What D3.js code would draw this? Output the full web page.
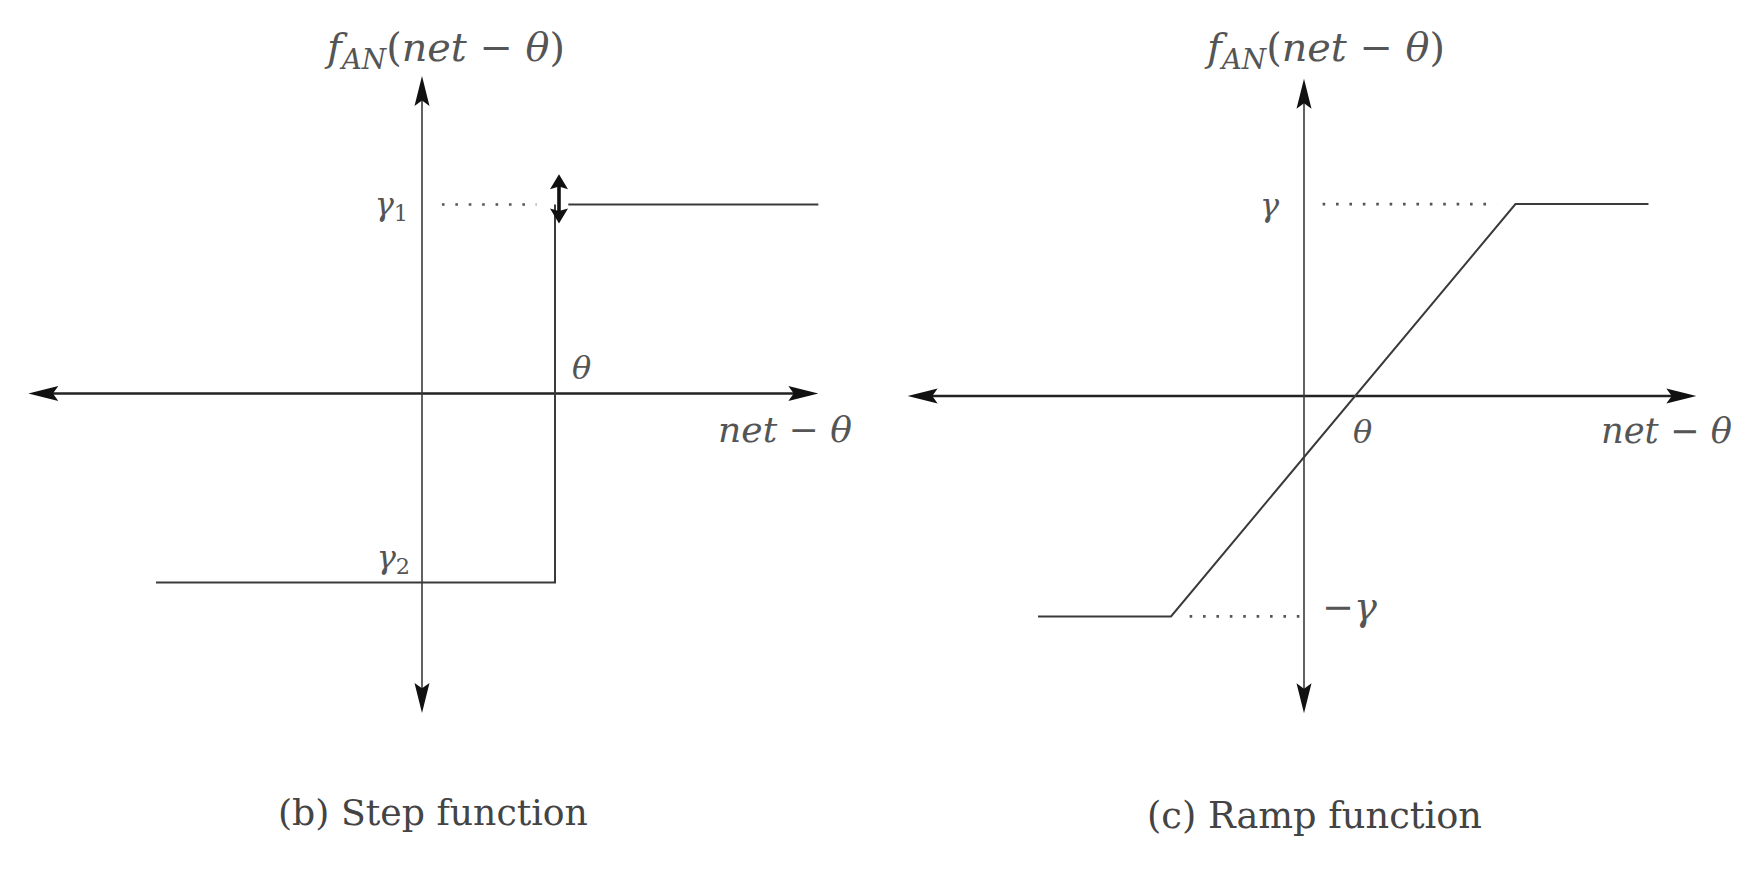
<!DOCTYPE html>
<html>
<head>
<meta charset="utf-8">
<script src="https://cdn.jsdelivr.net/npm/d3@7"></script>
<style>
  html, body { margin: 0; padding: 0; background: #fff; }
  svg { display: block; }
</style>
</head>
<body>
<svg id="chart" width="1758" height="882"></svg>
<script>
// ---------- DATA (drawing units: x = net - theta units, y = activation units) ----------
// Panel (b) Step function
const stepAxisX = [-2.96, 2.98];
const stepAxisY = [-1.69, 1.68];
const stepLower = [[-2, -1], [1, -1], [1, 1]];      // gamma2 level, then jump at theta
const stepUpper = [[1.1, 1], [2.98, 1]];             // gamma1 level
const stepDotted = [[0.15, 1], [0.86, 1]];
const stepDoubleArrow = [1.03, 0.9, 1.16];           // x, y-bottom, y-top
// Panel (c) Ramp function
const rampAxisX = [-2.98, 2.95];
const rampAxisY = [-1.67, 1.67];
const rampLine = [[-2, -1.16], [-1, -1.16], [1.59, 1.01], [2.59, 1.01]];
const rampDottedTop = [[0.14, 1.01], [1.45, 1.01]];
const rampDottedBottom = [[-0.86, -1.16], [-0.02, -1.16]];
// Texts
const yTitle = [{t: "f", i: true}, {t: "AN", i: true, sub: true}, {t: "(", i: false}, {t: "net", i: true}, {t: " − ", i: false}, {t: "θ", i: true}, {t: ")", i: false}];
const xTitle = [{t: "net", i: true}, {t: " − ", i: false}, {t: "θ", i: true}];
const captions = ["(b) Step function", "(c) Ramp function"];

// ---------- SCALES ----------
const xL = d3.scaleLinear().domain([-3, 3]).range([23, 821]);
const yL = d3.scaleLinear().domain([-1, 1]).range([393.5 + 189, 393.5 - 189]);
const xR = d3.scaleLinear().domain([-3, 3]).range([1304 - 399, 1304 + 399]);
const yR = d3.scaleLinear().domain([-1, 1]).range([396 + 190, 396 - 190]);

const svg = d3.select("#chart");
const LINE = "#3a3a3a";
const TEXT = "#555";
const FONT = "'DejaVu Serif', 'Liberation Serif', serif";

function arrowHead(g, x, y, dir, len, hw, color) {
  const back = len * 0.18;
  let p;
  if (dir === "up") p = [[x, y], [x - hw, y + len], [x, y + len - back], [x + hw, y + len]];
  if (dir === "down") p = [[x, y], [x - hw, y - len], [x, y - len + back], [x + hw, y - len]];
  if (dir === "left") p = [[x, y], [x + len, y - hw], [x + len - back, y], [x + len, y + hw]];
  if (dir === "right") p = [[x, y], [x - len, y - hw], [x - len + back, y], [x - len, y + hw]];
  g.append("path").attr("d", d3.line()(p) + "Z").attr("fill", color || "#111").attr("stroke", "none");
}

function drawAxes(g, xs, ys, ax, ay) {
  const lineGen = d3.line().x(d => xs(d[0])).y(d => ys(d[1]));
  g.append("path").attr("d", lineGen([[ax[0] + 0.15, 0], [ax[1] - 0.15, 0]]))
    .attr("stroke", "#222").attr("stroke-width", 2.4).attr("fill", "none");
  g.append("path").attr("d", lineGen([[0, ay[0] + 0.1], [0, ay[1] - 0.1]]))
    .attr("stroke", LINE).attr("stroke-width", 1.6).attr("fill", "none");
  arrowHead(g, xs(ax[0]), ys(0), "left", 30, 7.5);
  arrowHead(g, xs(ax[1]), ys(0), "right", 30, 7.5);
  arrowHead(g, xs(0), ys(ay[1]), "up", 30, 7.5);
  arrowHead(g, xs(0), ys(ay[0]), "down", 30, 7.5);
}

function buildMath(g, x, y, parts, size, anchor, color) {
  const t = g.append("text").attr("x", x).attr("y", y)
    .attr("font-family", FONT).attr("font-size", size)
    .attr("fill", color || TEXT).attr("text-anchor", anchor || "start")
    .style("white-space", "pre");
  let shifted = false;
  parts.forEach(p => {
    const s = t.append("tspan").text(p.t).attr("font-style", p.i ? "italic" : "normal");
    if (p.sub) { s.attr("font-size", size * 0.7).attr("dy", size * 0.2); shifted = true; }
    else if (shifted) { s.attr("dy", -size * 0.2); shifted = false; }
  });
  return t;
}
// build text, then rescale font so its advance width matches the reference width
function mathText(g, x, y, parts, size, anchor, width, color) {
  let t = buildMath(g, x, y, parts, size, anchor, color);
  if (width) {
    const len = t.node().getComputedTextLength();
    t.remove();
    t = buildMath(g, x, y, parts, size * width / len, anchor, color);
  }
  return t;
}

// ---------- PANEL (b) ----------
const gL = svg.append("g");
const lnL = d3.line().x(d => xL(d[0])).y(d => yL(d[1]));
drawAxes(gL, xL, yL, stepAxisX, stepAxisY);
gL.append("path").attr("d", lnL(stepLower)).attr("fill", "none").attr("stroke", LINE).attr("stroke-width", 2);
gL.append("path").attr("d", lnL(stepUpper)).attr("fill", "none").attr("stroke", LINE).attr("stroke-width", 2);
gL.append("path").attr("d", lnL(stepDotted)).attr("fill", "none").attr("stroke", "#555")
  .attr("stroke-width", 2.6).attr("stroke-dasharray", "2.6,10.8");
{
  const ax = xL(stepDoubleArrow[0]), y0 = yL(stepDoubleArrow[1]), y1 = yL(stepDoubleArrow[2]);
  gL.append("line").attr("x1", ax).attr("x2", ax).attr("y1", y0 - 10).attr("y2", y1 + 10)
    .attr("stroke", "#111").attr("stroke-width", 3.6);
  arrowHead(gL, ax, y1, "up", 15, 9);
  arrowHead(gL, ax, y0, "down", 15, 9);
}
mathText(gL, 327, 61, yTitle, 34, "start", 238);
mathText(gL, 852, 442, xTitle, 34, "end", 134);
mathText(gL, xL(1) + 17, 379, [{t: "θ", i: true}], 32);
mathText(gL, 408, 215, [{t: "γ", i: true}, {t: "1", i: false, sub: true}], 32, "end");
mathText(gL, 410, 568, [{t: "γ", i: true}, {t: "2", i: false, sub: true}], 32, "end");
mathText(gL, 278, 825, [{t: captions[0], i: false}], 34, "start", 310, "#444");

// ---------- PANEL (c) ----------
const gR = svg.append("g");
const lnR = d3.line().x(d => xR(d[0])).y(d => yR(d[1]));
drawAxes(gR, xR, yR, rampAxisX, rampAxisY);
gR.append("path").attr("d", lnR(rampLine)).attr("fill", "none").attr("stroke", LINE).attr("stroke-width", 2);
[rampDottedTop, rampDottedBottom].forEach(d => {
  gR.append("path").attr("d", lnR(d)).attr("fill", "none").attr("stroke", "#555")
    .attr("stroke-width", 2.6).attr("stroke-dasharray", "2.6,10.8");
});
mathText(gR, 1207, 61, yTitle, 34, "start", 238);
mathText(gR, 1732, 443, xTitle, 34, "end", 131);
mathText(gR, 1353, 443, [{t: "θ", i: true}], 32);
mathText(gR, 1279, 216, [{t: "γ", i: true}], 32, "end");
mathText(gR, 1322, 620, [{t: "−", i: false}, {t: "γ", i: true}], 32, "start", 55);
mathText(gR, 1147, 828, [{t: captions[1], i: false}], 34, "start", 335, "#444");
</script>
</body>
</html>
